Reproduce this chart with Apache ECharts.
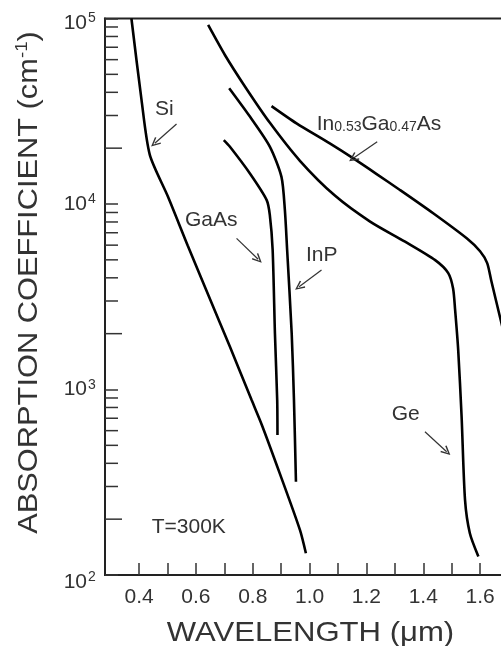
<!DOCTYPE html>
<html><head><meta charset="utf-8">
<script src="https://cdn.jsdelivr.net/npm/echarts@6/dist/echarts.min.js"></script>
<style>html,body{margin:0;padding:0;background:#fff}#c{width:501px;height:646px}</style>
</head><body><div id="c"></div>
<script>
// ---- data (wavelength in µm, absorption coefficient in cm^-1) ----
const siWavelength = [0.373, 0.4085, 0.4377, 0.501, 0.571, 0.645, 0.719, 0.796, 0.832, 0.895, 0.966, 0.987];
const siAlpha      = [100000, 36400, 18400, 11000, 5970, 3190, 1710, 877, 644, 353, 175, 131];

const gaasWavelength = [0.698, 0.719, 0.790, 0.849, 0.860, 0.870, 0.878, 0.886, 0.887];
const gaasAlpha      = [22100, 20400, 14600, 10500, 8730, 5650, 2010, 877, 569];

const inpWavelength = [0.717, 0.790, 0.860, 0.901, 0.913, 0.921, 0.937, 0.945, 0.952];
const inpAlpha      = [42100, 29600, 20400, 14000, 9290, 5650, 2010, 877, 318];

const geWavelength = [0.643, 0.702, 0.773, 0.861, 0.966, 1.089, 1.213, 1.336, 1.442, 1.488, 1.505, 1.512, 1.523, 1.535, 1.547, 1.564, 1.594];
const geAlpha      = [92300, 63600, 42900, 27300, 17100, 11100, 8040, 6260, 4980, 4240, 3500, 2700, 1630, 711, 254, 168, 126];

const ingaasWavelength = [0.866, 0.954, 1.071, 1.154, 1.236, 1.318, 1.435, 1.553, 1.600, 1.625, 1.639, 1.674, 1.698];
const ingaasAlpha      = [33700, 27200, 21200, 17600, 14500, 11900, 8910, 6530, 5560, 4800, 3880, 2320, 1630];

// ---- axes ----
const xTickValues  = [0.4, 0.5, 0.6, 0.7, 0.8, 0.9, 1.0, 1.1, 1.2, 1.3, 1.4, 1.5, 1.6, 1.7];
const xLabelValues = [0.4, 0.6, 0.8, 1.0, 1.2, 1.4, 1.6];
const yDecades     = [100, 1000, 10000, 100000];
const yMinorTicks  = [200,300,400,500,600,700,800,900, 2000,3000,4000,5000,6000,7000,8000,9000, 20000,30000,40000,50000,60000,70000,80000,90000];
const X_MIN = 0.28, X_MAX = 1.7, Y_MIN = 100, Y_MAX = 100000;

// ---- annotation arrows: [start, end] in data coords ----
const arrowSi     = [[0.5317, 27000], [0.4553, 21250]];
const arrowGaAs   = [[0.743, 6530],   [0.819, 5035]];
const arrowInP    = [[1.042, 4405],   [0.963, 3580]];
const arrowInGaAs = [[1.238, 21680],  [1.1535, 17620]];
const arrowGe     = [[1.406, 592],    [1.4824, 462]];

const FONT = 'Liberation Sans';
const TXT = '#333';

function zip(a, b) { return a.map((v, i) => [v, b[i]]); }
function curve(name, xs, ys) {
  return { name, type: 'line', data: zip(xs, ys), showSymbol: false, smooth: 0.25,
    lineStyle: { color: '#000', width: 2.6 }, silent: true, animation: false, z: 3 };
}

const chart = echarts.init(document.getElementById('c'), null, { renderer: 'canvas' });
chart.setOption({
  backgroundColor: '#fff',
  animation: false,
  grid: { left: 105, top: 18.5, bottom: 71, right: -7.5, show: true, borderColor: '#222', borderWidth: 2,
          containLabel: false, outerBoundsMode: 'none' },
  xAxis: {
    type: 'value', min: X_MIN, max: X_MAX,
    axisLine: { show: true, onZero: false, lineStyle: { color: '#222', width: 2 } },
    axisTick: { show: true, inside: true, length: 12, customValues: xTickValues, lineStyle: { color: '#333', width: 1.5 } },
    axisLabel: { customValues: xLabelValues, formatter: v => v.toFixed(1), fontSize: 21, color: TXT, margin: 12, fontFamily: FONT },
    splitLine: { show: false }
  },
  yAxis: {
    type: 'log', logBase: 10, min: Y_MIN, max: Y_MAX,
    axisLine: { show: true, lineStyle: { color: '#222', width: 2 } },
    axisTick: { show: true, inside: true, length: 13, lineStyle: { color: '#333', width: 1.5 } },
    axisLabel: { show: false },
    splitLine: { show: false }, minorTick: { show: false }
  },
  series: [
    curve('Si', siWavelength, siAlpha),
    curve('GaAs', gaasWavelength, gaasAlpha),
    curve('InP', inpWavelength, inpAlpha),
    curve('Ge', geWavelength, geAlpha),
    curve('In0.53Ga0.47As', ingaasWavelength, ingaasAlpha),
    {
      name: 'minorTicks', type: 'custom', silent: true, animation: false,
      data: yMinorTicks.map(v => [X_MIN, v]),
      renderItem: (params, api) => {
        const v = api.value(1);
        const p = api.coord([api.value(0), v]);
        const lead = Math.round(v / Math.pow(10, Math.floor(Math.log10(v) + 1e-9)));
        const len = lead === 2 ? 17 : 13;
        return { type: 'line', shape: { x1: p[0], y1: p[1], x2: p[0] + len, y2: p[1] },
                 style: { stroke: '#333', lineWidth: 1.5 } };
      }
    },
    {
      name: 'yTickLabels', type: 'custom', silent: true, animation: false, clip: false,
      data: yDecades.map(v => [X_MIN, v]),
      renderItem: (params, api) => {
        const v = api.value(1);
        const e = Math.round(Math.log10(v));
        const p = api.coord([api.value(0), v]);
        const nudge = e === 5 ? 4.5 : (e === 2 ? 7 : 0);
        const cy = p[1] + nudge;
        return { type: 'group', children: [
          { type: 'text', x: p[0] - 18, y: cy, style: { text: '10', fontSize: 21, fontFamily: FONT, fill: TXT, align: 'right', verticalAlign: 'middle' } },
          { type: 'text', x: p[0] - 17, y: cy - 4.5, style: { text: String(e), fontSize: 14, fontFamily: FONT, fill: TXT, align: 'left', verticalAlign: 'middle' } }
        ] };
      }
    },
    {
      name: 'arrows', type: 'line', data: [], silent: true, animation: false,
      markLine: {
        silent: true, animation: false,
        symbol: ['none', 'path://M5,0 L10,9 L8.6,9.8 L5,3 L1.4,9.8 L0,9 Z'],
        symbolSize: [9, 10],
        label: { show: false },
        lineStyle: { color: '#333', width: 1.2, type: 'solid' },
        emphasis: { disabled: true },
        data: [arrowSi, arrowGaAs, arrowInP, arrowInGaAs, arrowGe].map(a => [{ coord: a[0] }, { coord: a[1] }])
      }
    }
  ],
  graphic: [
    { type: 'text', x: 155, y: 109.5, style: { text: 'Si', font: '21px ' + FONT, fill: TXT, align: 'left', verticalAlign: 'middle' } },
    { type: 'text', x: 185, y: 220, style: { text: 'GaAs', font: '21px ' + FONT, fill: TXT, align: 'left', verticalAlign: 'middle' } },
    { type: 'text', x: 306, y: 255.5, style: { text: 'InP', font: '21px ' + FONT, fill: TXT, align: 'left', verticalAlign: 'middle' } },
    { type: 'text', x: 391.7, y: 414.7, style: { text: 'Ge', font: '21px ' + FONT, fill: TXT, align: 'left', verticalAlign: 'middle' } },
    { type: 'text', x: 151.7, y: 527.5, style: { text: 'T=300K', font: '21px ' + FONT, fill: TXT, align: 'left', verticalAlign: 'middle' } },
    { type: 'text', x: 316.7, y: 122.5, style: {
        text: '{a|In}{s|0.53}{a|Ga}{s|0.47}{a|As}', align: 'left', verticalAlign: 'middle',
        rich: { a: { fontSize: 21, lineHeight: 24, verticalAlign: 'bottom', fontFamily: FONT, fill: TXT },
                s: { fontSize: 14, lineHeight: 18, verticalAlign: 'bottom', fontFamily: FONT, fill: TXT } } } },
    { type: 'text', x: 310.5, y: 633, scaleX: 1.11, style: { text: 'WAVELENGTH (μm)', font: '28px ' + FONT, fill: TXT, align: 'center', verticalAlign: 'middle' } },
    { type: 'text', x: 28.5, y: 282.5, rotation: Math.PI / 2, scaleX: 1.1, style: {
        text: '{t|ABSORPTION COEFFICIENT (cm}{s|-1}{t|)}', align: 'center', verticalAlign: 'middle',
        rich: { t: { fontSize: 28, lineHeight: 30, verticalAlign: 'bottom', fontFamily: FONT, fill: TXT },
                s: { fontSize: 17, lineHeight: 17, verticalAlign: 'top', fontFamily: FONT, fill: TXT } } } }
  ]
});
</script></body></html>
